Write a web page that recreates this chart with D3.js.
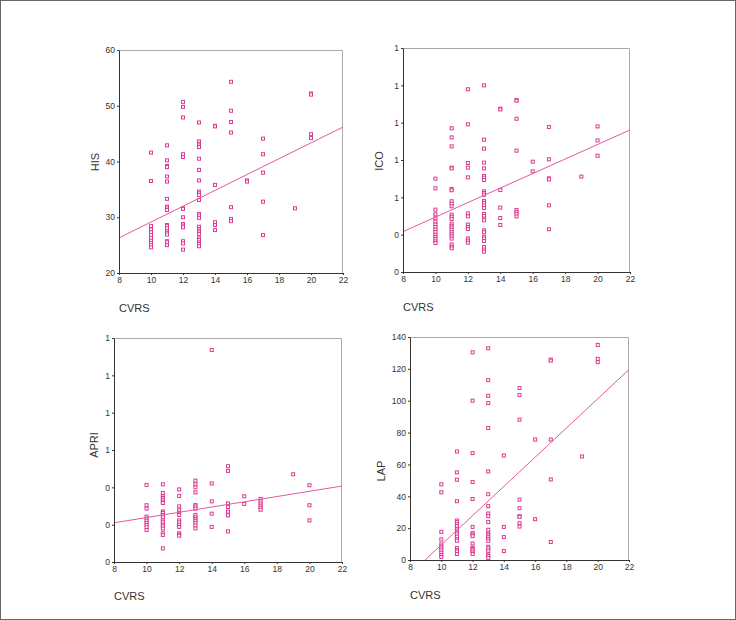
<!DOCTYPE html>
<html>
<head>
<meta charset="utf-8">
<script src="https://cdn.jsdelivr.net/npm/d3@7"></script>
<style>
body { margin: 0; background: #fff; }
svg text { font-family: "Liberation Sans", Arial, sans-serif; fill: #333; }
</style>
</head>
<body>
<div id="chart"></div>
<script>
// x axis (CVRS) is shared by all four plots
var xTicks = [8, 10, 12, 14, 16, 18, 20, 22];

// HIS vs CVRS
var hisX = [10,10,10,10,10,10,10,10,10,10,10,
    11,11,11,11,11,11,11,11,11,11,11,11,11,11,11,11,11,11,11,
    12,12,12,12,12,12,12,12,12,12,12,12,12,12,
    13,13,13,13,13,13,13,13,13,13,13,13,13,13,13,13,13,13,13,13,13,13,13,13,13,
    14,14,14,14,14,14,
    15,15,15,15,15,15,15,
    16,16,
    17,17,17,17,17,
    19,
    20,20,20,20];
var hisY = [41.6,36.5,28.4,27.8,27.3,26.8,26.3,25.8,25.4,25.0,24.6,
    42.9,40.2,39.2,39.0,37.3,36.4,33.3,31.9,31.6,31.3,28.6,28.4,28.0,27.5,27.2,26.9,25.7,25.5,25.0,
    50.7,49.8,47.9,41.3,40.8,31.6,31.5,30.0,28.8,28.5,28.2,25.7,25.3,24.2,
    47.0,43.6,43.2,42.9,42.6,40.5,38.5,36.6,34.6,34.3,34.0,33.1,30.6,30.3,29.9,28.3,27.9,27.6,27.3,27.0,26.2,25.9,25.5,25.2,24.8,
    46.4,46.3,35.8,29.1,28.6,27.7,
    54.3,49.1,47.1,45.2,31.8,29.7,29.3,
    36.6,36.4,
    44.1,41.3,38.0,32.8,26.8,
    31.6,
    52.2,52.0,44.9,44.2];
var hisTicks = [20, 30, 40, 50, 60];
var hisFit = [14.94, 1.42];

// ICO vs CVRS
var icoX = [10,10,10,10,10,10,10,10,10,10,10,10,10,10,10,
    11,11,11,11,11,11,11,11,11,11,11,11,11,11,11,11,11,11,11,11,11,11,11,11,
    12,12,12,12,12,12,12,12,12,12,12,12,12,
    13,13,13,13,13,13,13,13,13,13,13,13,13,13,13,13,13,13,13,13,13,13,13,13,13,13,13,
    14,14,14,14,14,14,
    15,15,15,15,15,15,15,15,
    16,16,
    17,17,17,17,17,17,
    19,
    20,20,20];
var icoY = [0.50,0.448,0.334,0.309,0.288,0.27,0.254,0.241,0.227,0.214,0.2,0.188,0.177,0.164,0.155,
    0.77,0.721,0.673,0.559,0.555,0.445,0.438,0.379,0.366,0.352,0.307,0.296,0.284,0.259,0.248,0.239,0.227,0.213,0.202,0.191,0.179,0.148,0.136,0.127,
    0.979,0.791,0.584,0.559,0.507,0.314,0.298,0.254,0.241,0.23,0.18,0.168,0.157,
    1.0,0.709,0.661,0.586,0.555,0.514,0.505,0.493,0.432,0.423,0.414,0.38,0.37,0.357,0.343,0.311,0.3,0.286,0.277,0.223,0.213,0.189,0.179,0.166,0.134,0.12,0.109,
    0.875,0.871,0.439,0.345,0.289,0.252,
    0.921,0.918,0.821,0.65,0.332,0.321,0.311,0.298,
    0.591,0.539,
    0.777,0.604,0.502,0.496,0.357,0.229,
    0.511,
    0.78,0.705,0.623];
var icoTicks = [0, 0.2, 0.4, 0.6, 0.8, 1.0, 1.2];
var icoTickLabels = ["0", "0", "1", "1", "1", "1", "1"];
var icoFit = [-0.095, 0.0389];

// APRI vs CVRS
var apriX = [10,10,10,10,10,10,10,10,10,10,
    11,11,11,11,11,11,11,11,11,11,11,11,11,11,11,11,11,11,11,
    12,12,12,12,12,12,12,12,12,12,12,12,12,
    13,13,13,13,13,13,13,13,13,13,13,13,13,13,
    14,14,14,14,14,
    15,15,15,15,15,15,15,
    16,16,
    17,17,17,17,17,17,
    19,
    20,20,20];
var apriY = [0.413,0.304,0.286,0.243,0.232,0.221,0.209,0.198,0.186,0.171,
    0.416,0.37,0.352,0.343,0.334,0.323,0.316,0.271,0.263,0.252,0.239,0.223,0.213,0.2,0.191,0.179,0.154,0.145,0.073,
    0.389,0.354,0.298,0.277,0.264,0.252,0.223,0.213,0.2,0.188,0.154,0.146,0.141,
    0.436,0.416,0.4,0.373,0.305,0.298,0.286,0.252,0.239,0.23,0.221,0.209,0.196,0.18,
    1.136,0.421,0.325,0.259,0.188,
    0.513,0.488,0.314,0.295,0.27,0.25,0.164,
    0.352,0.311,
    0.338,0.325,0.313,0.302,0.291,0.28,
    0.47,
    0.411,0.304,0.223];
var apriTicks = [0, 0.2, 0.4, 0.6, 0.8, 1.0, 1.2];
var apriTickLabels = ["0", "0", "0", "1", "1", "1", "1"];
var apriFit = [0.0974, 0.01407];

// LAP vs CVRS
var lapX = [10,10,10,10,10,10,10,10,10,10,10,
    11,11,11,11,11,11,11,11,11,11,11,11,11,11,11,11,11,11,11,
    12,12,12,12,12,12,12,12,12,12,12,12,12,12,12,
    13,13,13,13,13,13,13,13,13,13,13,13,13,13,13,13,13,13,13,13,13,13,13,
    14,14,14,14,
    15,15,15,15,15,15,15,15,15,
    16,16,
    17,17,17,17,17,
    19,
    20,20,20];
var lapY = [47.5,42.5,17.7,12.9,9.8,8.5,7.3,6.0,4.6,3.1,1.9,
    68.1,55,50.4,36.9,24.8,23.8,22.5,21.3,19.6,18.5,17.1,16,14.6,13.1,12.1,7.5,6.3,5.4,3.8,
    130.4,100,67.1,49,38.3,20.8,16.9,16,15,10.4,7.7,6.9,6.0,4.8,3.8,
    132.9,112.9,103.1,98.5,82.9,55.6,41.3,33.8,29.2,27.5,23.8,19,16.7,15.8,14.6,13.3,12.1,8.3,7.3,5.8,3.5,2.5,1.3,
    65.6,20.8,14.4,5.6,
    107.9,103.5,88.1,37.9,32.5,27.5,27.1,23.1,21,
    75.6,25.6,
    125.8,125.2,75.6,50.6,11.3,
    65,
    135,126.3,124.2];
var lapTicks = [0, 20, 40, 60, 80, 100, 120, 140];
var lapFit = [-82.2, 9.17];

var svgWidth = 736;
var svgHeight = 620;
var markColor = "#dc3a92";
var lineColor = "#e4589f";

var svg = d3.select("#chart")
    .append("svg")
    .attr("width", svgWidth)
    .attr("height", svgHeight);

// outer frame of the figure
svg.append("rect")
    .attr("x", 0.5).attr("y", 0.5)
    .attr("width", svgWidth - 1).attr("height", svgHeight - 1)
    .attr("fill", "none")
    .attr("stroke", "#666");

var panels = [
    {name: "HIS", xs: hisX, ys: hisY, fit: hisFit, ticks: hisTicks, labels: null,
        box: {l: 119, t: 50, r: 343, b: 273}, yl: {x: 95, y: 162}, xl: {x: 119, y: 312}},
    {name: "ICO", xs: icoX, ys: icoY, fit: icoFit, ticks: icoTicks, labels: icoTickLabels,
        box: {l: 403, t: 48, r: 630, b: 272}, yl: {x: 379, y: 161}, xl: {x: 403, y: 311}},
    {name: "APRI", xs: apriX, ys: apriY, fit: apriFit, ticks: apriTicks, labels: apriTickLabels,
        box: {l: 114, t: 338, r: 342, b: 562}, yl: {x: 94, y: 445}, xl: {x: 114, y: 600}},
    {name: "LAP", xs: lapX, ys: lapY, fit: lapFit, ticks: lapTicks, labels: null,
        box: {l: 410, t: 337, r: 629, b: 560}, yl: {x: 381, y: 471}, xl: {x: 410, y: 599}}
];

panels.forEach(function(p, i) {
    var w = p.box.r - p.box.l;
    var h = p.box.b - p.box.t;
    var g = svg.append("g")
        .attr("transform", `translate(${p.box.l},${p.box.t})`);

    var xScale = d3.scaleLinear().domain([8, 22]).range([0, w]);
    var yScale = d3.scaleLinear()
        .domain([p.ticks[0], p.ticks[p.ticks.length - 1]])
        .range([h, 0]);

    // light frame on top and right
    g.append("path")
        .attr("d", `M0,0.5H${w - 0.5}V${h}`)
        .attr("fill", "none")
        .attr("stroke", "#aaa");

    g.append("clipPath").attr("id", "clip" + i)
        .append("rect").attr("width", w).attr("height", h);

    var pts = p.xs.map(function(x, j) { return {x: x, y: p.ys[j]}; });

    g.append("g").selectAll("rect")
        .data(pts)
        .enter()
        .append("rect")
        .attr("x", d => xScale(d.x) - 1.5)
        .attr("y", d => yScale(d.y) - 1.5)
        .attr("width", 3)
        .attr("height", 3)
        .attr("fill", "#fff")
        .attr("stroke", markColor)
        .attr("stroke-width", 1);

    var line = d3.line()
        .x(d => xScale(d))
        .y(d => yScale(p.fit[0] + p.fit[1] * d));
    g.append("path")
        .datum([8, 22])
        .attr("d", line)
        .attr("clip-path", `url(#clip${i})`)
        .attr("fill", "none")
        .attr("stroke", lineColor)
        .attr("stroke-width", 1);

    var bottomAxis = d3.axisBottom(xScale)
        .tickValues(xTicks)
        .tickSize(2)
        .tickPadding(2)
        .tickSizeOuter(0);
    var leftAxis = d3.axisLeft(yScale)
        .tickValues(p.ticks)
        .tickSize(2)
        .tickPadding(2)
        .tickSizeOuter(0)
        .tickFormat((d, k) => p.labels ? p.labels[k] : d);

    var xa = g.append("g")
        .attr("transform", `translate(0,${h})`)
        .call(bottomAxis);
    var ya = g.append("g").call(leftAxis);
    [xa, ya].forEach(function(a) {
        a.selectAll("path, line").attr("stroke", "#333");
        a.selectAll("text")
            .style("font-size", "8.5px")
            .attr("fill", "#444");
    });

    svg.append("text")
        .attr("transform", `translate(${p.yl.x},${p.yl.y}) rotate(-90)`)
        .attr("text-anchor", "middle")
        .attr("dy", "0.35em")
        .style("font-size", "11px")
        .text(p.name);

    svg.append("text")
        .attr("x", p.xl.x)
        .attr("y", p.xl.y)
        .style("font-size", "11px")
        .text("CVRS");
});
</script>
</body>
</html>
